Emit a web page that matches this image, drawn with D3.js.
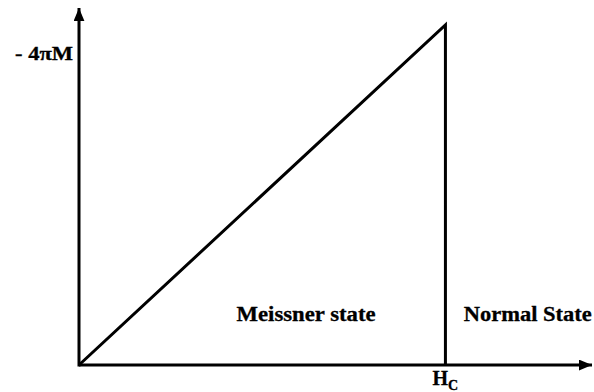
<!DOCTYPE html>
<html>
<head>
<meta charset="utf-8">
<script src="https://cdn.jsdelivr.net/npm/d3@7"></script>
<style>
body { margin: 0; background: #fff; }
text { font-family: "Liberation Serif", "Times New Roman", Times, serif; font-weight: bold; fill: #000; stroke: #000; stroke-width: 0.3px; }
</style>
</head>
<body>
<script>
const w = 594;
const h = 392;

// magnetisation curve: field H (in units of Hc) vs -4piM (in units of max)
const fieldH = [0, 1, 1];
const magM = [0, 1, 0];
const hc = 1;
const xMax = 1.4;
const yMax = 1.05;

const regionLabels = ["Meissner state", "Normal State"];
const regionX = [0.43, 1.05];   // start of each label, in H units
const regionY = 0.13;

const svg = d3.select("body")
    .append("svg")
    .attr("width", w)
    .attr("height", h);

const xScale = d3.scaleLinear().domain([0, xMax]).range([79, 592]);
const yScale = d3.scaleLinear().domain([0, yMax]).range([365, 8]);

// arrow heads
const defs = svg.append("defs");
defs.append("marker")
    .attr("id", "arrow")
    .attr("viewBox", "0 0 12 10")
    .attr("refX", 12)
    .attr("refY", 5)
    .attr("markerUnits", "userSpaceOnUse")
    .attr("markerWidth", 13)
    .attr("markerHeight", 11)
    .attr("orient", "auto")
    .append("path")
    .attr("d", "M0,0 L12,5 L0,10 Z")
    .attr("fill", "#000");

// axes
svg.append("line")
    .attr("x1", xScale(0)).attr("y1", yScale(0))
    .attr("x2", xScale(xMax)).attr("y2", yScale(0))
    .attr("stroke", "#000").attr("stroke-width", 3)
    .attr("marker-end", "url(#arrow)");

svg.append("line")
    .attr("x1", xScale(0)).attr("y1", yScale(0) + 1.5)
    .attr("x2", xScale(0)).attr("y2", yScale(yMax))
    .attr("stroke", "#000").attr("stroke-width", 3)
    .attr("marker-end", "url(#arrow)");

// curve
const pts = fieldH.map((d, i) => [xScale(d), yScale(magM[i])]);
svg.append("path")
    .attr("d", d3.line()(pts))
    .attr("fill", "none")
    .attr("stroke", "#000")
    .attr("stroke-width", 3)
    .attr("stroke-linejoin", "miter");

// labels
svg.append("text")
    .attr("x", 15)
    .attr("y", 60)
    .attr("font-size", 18)
    .attr("textLength", 58)
    .attr("lengthAdjust", "spacingAndGlyphs")
    .text("- 4\u03C0M");

regionLabels.forEach((t, i) => {
    svg.append("text")
        .attr("x", xScale(regionX[i]))
        .attr("y", yScale(regionY))
        .attr("font-size", 20)
        .attr("textLength", i == 0 ? 139 : 128)
        .attr("lengthAdjust", "spacingAndGlyphs")
        .text(t);
});

const hcLabel = svg.append("text")
    .attr("x", xScale(hc) - 13)
    .attr("y", 385)
    .attr("font-size", 20);
hcLabel.append("tspan").text("H");
hcLabel.append("tspan")
    .attr("font-size", 14)
    .attr("dy", 5)
    .text("C");
</script>
</body>
</html>
